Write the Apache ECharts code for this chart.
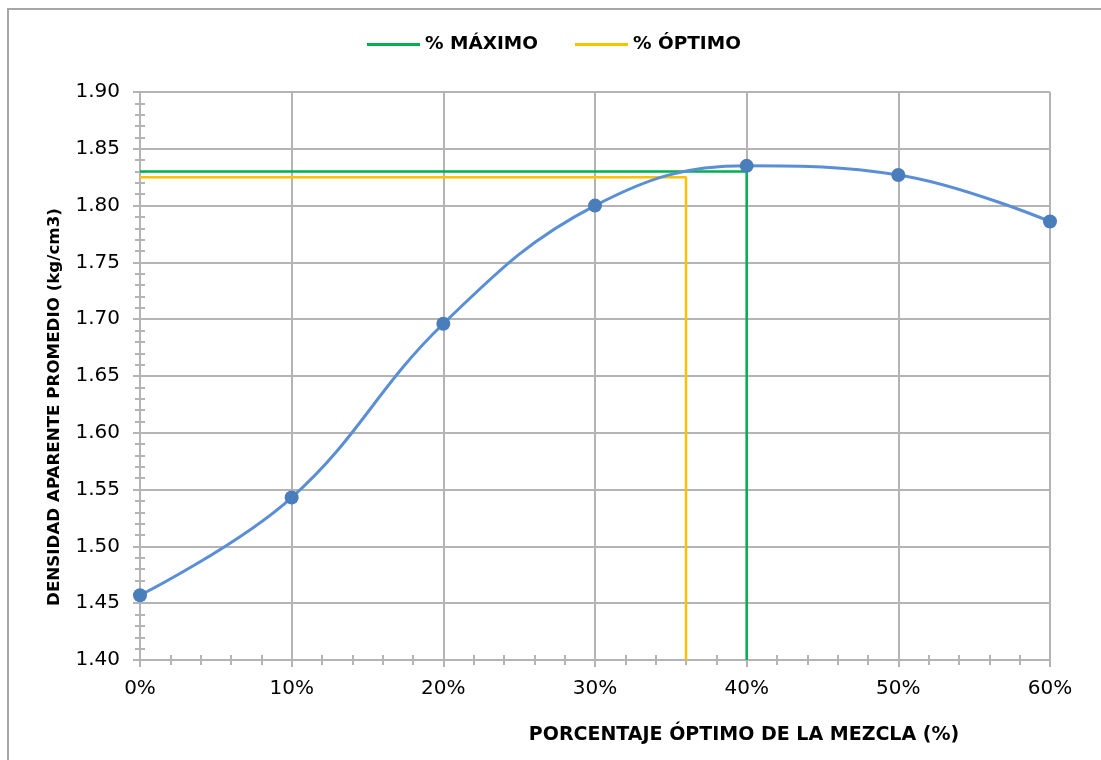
<!DOCTYPE html>
<html>
<head>
<meta charset="utf-8">
<script src="https://cdn.jsdelivr.net/npm/echarts@6/dist/echarts.min.js"></script>
<style>
  html, body { margin: 0; padding: 0; background: #ffffff; overflow: hidden; }
  #wrap { position: relative; width: 1101px; height: 760px; overflow: hidden; }
  #frame { position: absolute; left: 7px; top: 8px; width: 1200px; height: 900px;
           border-left: 2px solid #A6A6A6; border-top: 2px solid #A6A6A6; box-sizing: border-box; }
  #chart { position: absolute; left: 0; top: 0; width: 1101px; height: 760px; }
</style>
</head>
<body>
<div id="wrap">
  <div id="frame"></div>
  <div id="chart"></div>
</div>
<script>
// Mixture percentage (%) and average apparent density (kg/cm3)
const mixPercent = [0, 10, 20, 30, 40, 50, 60];
const density = [1.457, 1.543, 1.696, 1.800, 1.835, 1.827, 1.786];

// Reference markers: [percent, density]
const maxPoint = [40, 1.83];
const optPoint = [36, 1.825];

const xTicks = [0, 10, 20, 30, 40, 50, 60];
const yMin = 1.40, yMax = 1.90, yStep = 0.05;

const FONT = "'DejaVu Sans', Verdana, sans-serif";
const GRID_COLOR = '#B4B4B4';

const chart = echarts.init(document.getElementById('chart'), null, { renderer: 'canvas' });

const baseY = yMin;
const maxPath = [[0, maxPoint[1]], [maxPoint[0], maxPoint[1]], [maxPoint[0], baseY]];
const optPath = [[0, optPoint[1]], [optPoint[0], optPoint[1]], [optPoint[0], baseY]];

const xCommon = {
  type: 'value', min: xTicks[0], max: xTicks[xTicks.length - 1], interval: 10,
  position: 'bottom'
};
const yCommon = {
  type: 'value', min: yMin, max: yMax, interval: yStep, position: 'left'
};
const minor = { show: true, splitNumber: 5, length: 5, lineStyle: { color: GRID_COLOR, width: 2 } };

chart.setOption({
  animation: false,
  grid: { left: 140, right: 51, top: 92, bottom: 100, containLabel: false },
  legend: {
    top: 30, left: 362,
    itemWidth: 53, itemHeight: 3, itemGap: 37,
    icon: 'rect',
    textStyle: { fontFamily: FONT, fontWeight: 'bold', fontSize: 18.5, color: '#000' },
    data: ['% MÁXIMO', '% ÓPTIMO']
  },
  xAxis: [
    Object.assign({}, xCommon, {
      axisLine: { show: true, lineStyle: { color: GRID_COLOR, width: 2 } },
      axisTick: { show: true, length: 7, lineStyle: { color: GRID_COLOR, width: 2 } },
      minorTick: minor,
      splitLine: { show: true, lineStyle: { color: GRID_COLOR, width: 2 } },
      axisLabel: { margin: 19, fontFamily: FONT, fontSize: 20, color: '#000',
                   formatter: v => v + '%' }
    }),
    Object.assign({}, xCommon, {
      axisLine: { show: false },
      axisTick: { show: false, inside: true },
      minorTick: minor,
      splitLine: { show: false },
      axisLabel: { show: false, inside: true }
    })
  ],
  yAxis: [
    Object.assign({}, yCommon, {
      axisLine: { show: true, lineStyle: { color: GRID_COLOR, width: 2 } },
      axisTick: { show: true, length: 7, lineStyle: { color: GRID_COLOR, width: 2 } },
      minorTick: minor,
      splitLine: { show: true, lineStyle: { color: GRID_COLOR, width: 2 } },
      axisLabel: { margin: 20, fontFamily: FONT, fontSize: 20, color: '#000',
                   formatter: v => v.toFixed(2) }
    }),
    Object.assign({}, yCommon, {
      axisLine: { show: false },
      axisTick: { show: false, inside: true },
      minorTick: minor,
      splitLine: { show: false },
      axisLabel: { show: false, inside: true }
    })
  ],
  graphic: [
    {
      type: 'text', x: 744, y: 735,
      style: { text: 'PORCENTAJE ÓPTIMO DE LA MEZCLA (%)', fontFamily: FONT, fontWeight: 'bold',
               fontSize: 19, fill: '#000', align: 'center', verticalAlign: 'middle' }
    },
    {
      type: 'text', x: 55, y: 407, rotation: Math.PI / 2,
      style: { text: 'DENSIDAD APARENTE PROMEDIO (kg/cm3)', fontFamily: FONT, fontWeight: 'bold',
               fontSize: 16.7, fill: '#000', align: 'center', verticalAlign: 'middle' }
    }
  ],
  series: [
    {
      name: '% MÁXIMO', type: 'line', xAxisIndex: 0, yAxisIndex: 0,
      data: maxPath, symbol: 'none', z: 3,
      lineStyle: { color: '#00B050', width: 2.5 }, itemStyle: { color: '#00B050' }
    },
    {
      name: '% ÓPTIMO', type: 'line', xAxisIndex: 0, yAxisIndex: 0,
      data: optPath, symbol: 'none', z: 3,
      lineStyle: { color: '#FFC000', width: 2.5 }, itemStyle: { color: '#FFC000' }
    },
    {
      name: 'Densidad', type: 'line', xAxisIndex: 0, yAxisIndex: 0,
      data: mixPercent.map((p, i) => [p, density[i]]),
      smooth: 0.4, z: 4,
      symbol: 'circle', symbolSize: 14,
      lineStyle: { color: '#5A8FD6', width: 3 },
      itemStyle: { color: '#4A7EBB' }
    }
  ]
});
</script>
</body>
</html>
